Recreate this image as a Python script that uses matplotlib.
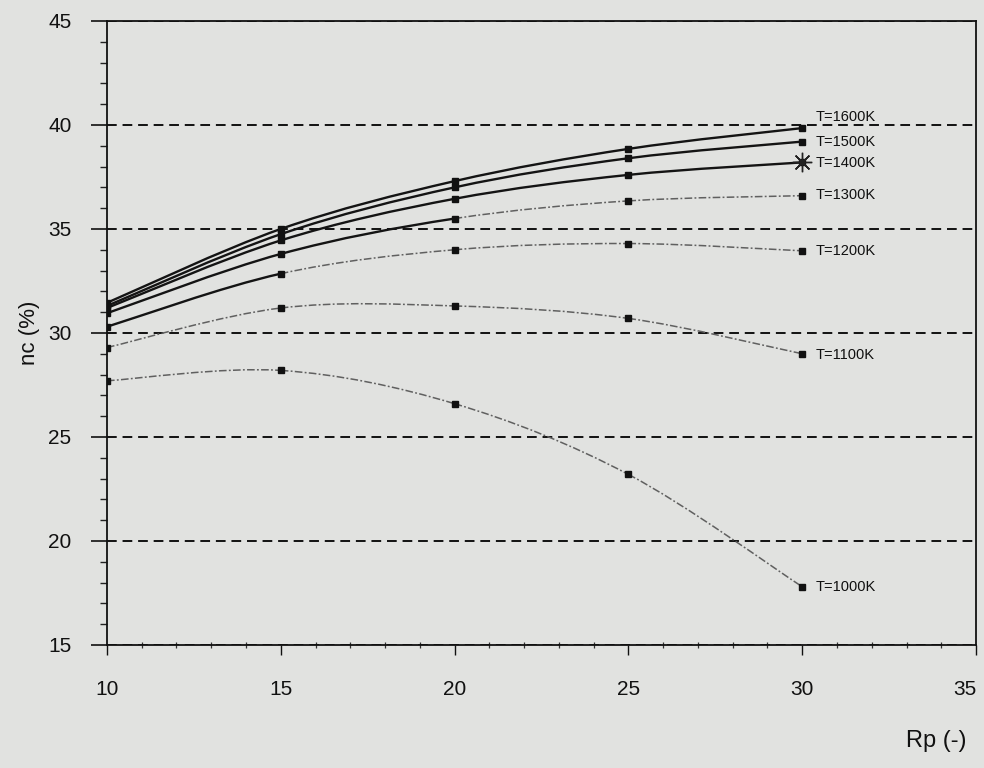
import matplotlib
matplotlib.use("Agg")
import matplotlib.pyplot as plt
from matplotlib.path import Path
from matplotlib.patches import PathPatch
from matplotlib.ticker import MultipleLocator

# Rp values (x) and efficiency nc (%) per turbine inlet temperature
rp = [10, 15, 20, 25, 30]
labels = ["T=1600K", "T=1500K", "T=1400K", "T=1300K", "T=1200K", "T=1100K", "T=1000K"]
nc_1600 = [31.45, 35.0, 37.3, 38.85, 39.85]
nc_1500 = [31.3, 34.75, 37.0, 38.4, 39.2]
nc_1400 = [31.2, 34.45, 36.45, 37.6, 38.2]
nc_1300 = [30.95, 33.8, 35.5, 36.35, 36.6]
nc_1200 = [30.3, 32.85, 34.0, 34.3, 33.95]
nc_1100 = [29.3, 31.2, 31.3, 30.7, 29.0]
nc_1000 = [27.7, 28.2, 26.6, 23.2, 17.8]
series = [nc_1600, nc_1500, nc_1400, nc_1300, nc_1200, nc_1100, nc_1000]
x_ticks = [10, 15, 20, 25, 30, 35]

# style: curve drawn solid up to this Rp, dash-dot after
solid_until = [30, 30, 30, 20, 15, 10, 10]
label_dy = [0.55, 0.0, -0.05, 0.05, 0.0, -0.05, 0.0]

plt.rcParams['font.family'] = ['Liberation Sans', 'DejaVu Sans']
bg = '#e1e2e0'


def bezier_segments(xs, ys):
    # Catmull-Rom style smoothing (like spreadsheet "smoothed line")
    n = len(xs)
    segs = []
    for i in range(n - 1):
        i0 = max(i - 1, 0)
        i3 = min(i + 2, n - 1)
        c1 = (xs[i] + (xs[i + 1] - xs[i0]) / 6, ys[i] + (ys[i + 1] - ys[i0]) / 6)
        c2 = (xs[i + 1] - (xs[i3] - xs[i]) / 6, ys[i + 1] - (ys[i3] - ys[i]) / 6)
        verts = [(xs[i], ys[i]), c1, c2, (xs[i + 1], ys[i + 1])]
        segs.append((xs[i + 1], Path(verts, [Path.MOVETO, Path.CURVE4, Path.CURVE4, Path.CURVE4])))
    return segs


fig = plt.figure(figsize=(9.84, 7.68), dpi=100, facecolor=bg)
ax = fig.add_axes([0.1087, 0.1602, 0.8832, 0.8125])
ax.set_facecolor(bg)

for vals, lab, cut, dy in zip(series, labels, solid_until, label_dy):
    for xend, path in bezier_segments(rp, vals):
        if xend <= cut:
            patch = PathPatch(path, fill=False, edgecolor='#141414', lw=1.7)
        else:
            patch = PathPatch(path, fill=False, edgecolor='#606060', lw=1.1,
                              linestyle=(0, (5, 1.5, 1.2, 1.5)))
        ax.add_patch(patch)
    ax.plot(rp, vals, linestyle='none', marker='s', ms=4.8, color='#111111', zorder=4)
    ax.text(rp[-1] + 0.38, vals[-1] + dy, lab, fontsize=10.5, va='center', ha='left',
            color='#101010')

# asterisk at T=1400K, Rp=30
ax.plot(rp[-1], nc_1400[-1], linestyle='none', marker=(8, 2, 0), ms=14, mew=1.0,
        color='#222222', zorder=5)

ax.set_xlim(10, 35)
ax.set_ylim(15, 45)
ax.set_xticks(x_ticks)
ax.xaxis.set_minor_locator(MultipleLocator(1))
ax.yaxis.set_major_locator(MultipleLocator(5))
ax.yaxis.set_minor_locator(MultipleLocator(1))

ax.grid(axis='y', which='major', color='#111111', linestyle=(0, (5, 3)), lw=1.4)
ax.set_axisbelow(True)

ax.tick_params(axis='y', which='major', direction='out', length=11.5, width=1.2,
               pad=14, labelsize=15, colors='#111111')
ax.tick_params(axis='y', which='minor', direction='out', length=5, width=1.0, colors='#222222')
ax.tick_params(axis='x', which='major', direction='out', length=7, width=1.0,
               pad=18, labelsize=15, colors='#111111')
ax.tick_params(axis='x', which='minor', direction='inout', length=4, width=0.9, colors='#333333')

# last x label sits left of its tick, inside the figure
ax.xaxis.get_major_ticks()[-1].label1.set_horizontalalignment('right')

for s in ax.spines.values():
    s.set_color('#111111')
    s.set_linewidth(1.3)

ax.set_ylabel('nc (%)', fontsize=16, labelpad=6, color='#111111')
fig.text(0.951, 0.021, 'Rp (-)', fontsize=17, ha='center', va='bottom', color='#111111')

fig.savefig('out.png', dpi=100, facecolor=bg)
